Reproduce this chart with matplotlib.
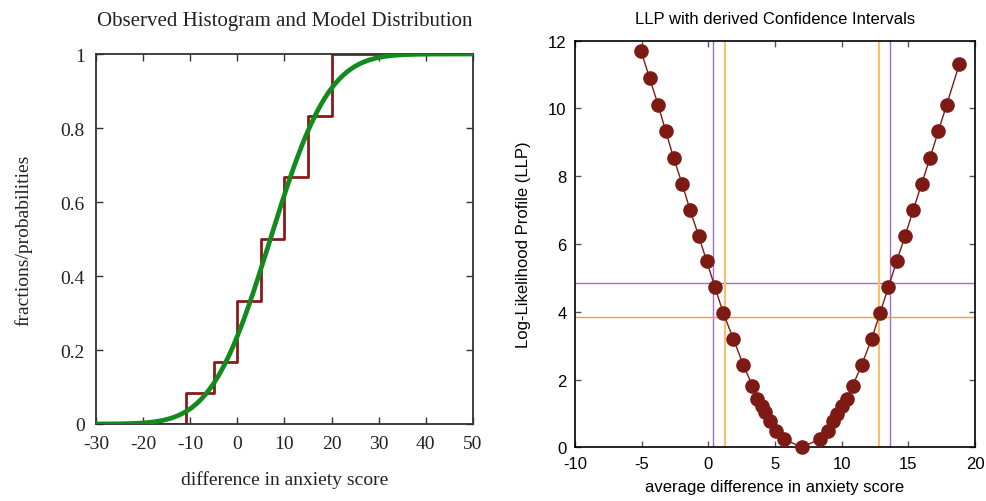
import math
import numpy as np
import matplotlib
matplotlib.use("Agg")
import matplotlib.pyplot as plt

plt.rcParams["axes.unicode_minus"] = False

# left panel: cumulative observed fractions and fitted normal model
step_edges = [-11, -5, 0, 5, 10, 15, 20]
step_fracs = [0.083, 0.167, 0.333, 0.5, 0.667, 0.833, 1.0]
model_mean = 7.0
model_sd = 9.8

# right panel: log-likelihood profile
llp_x = [-5.05, -4.40, -3.77, -3.20, -2.60, -1.97, -1.375, -0.72, -0.12, 0.50,
         1.125, 1.875, 2.625, 3.30, 3.68, 4.00, 4.25, 4.63, 5.08, 5.65, 7.00,
         8.38, 8.95, 9.375, 9.675, 10.00, 10.375, 10.83, 11.50, 12.25, 12.875,
         13.50, 14.125, 14.75, 15.375, 16.00, 16.625, 17.25, 17.875, 18.825]
llp_y = [11.70, 10.89, 10.11, 9.33, 8.54, 7.78, 7.01, 6.23, 5.49, 4.72,
         3.96, 3.20, 2.43, 1.82, 1.42, 1.23, 1.03, 0.785, 0.49, 0.245, 0.0,
         0.245, 0.49, 0.785, 0.98, 1.23, 1.42, 1.82, 2.43, 3.20, 3.96,
         4.72, 5.49, 6.23, 7.01, 7.78, 8.54, 9.33, 10.11, 11.31]
ci95_level, ci95_lo, ci95_hi = 3.84, 1.25, 12.8
ci97_level, ci97_lo, ci97_hi = 4.85, 0.375, 13.65

W, H = 987, 502
fig = plt.figure(figsize=(W / 100, H / 100), dpi=100)

# ---- left
serif = ["Liberation Serif", "DejaVu Serif"]
ax1 = fig.add_axes([96 / W, (H - 425) / H, 377 / W, 370 / H])
sx = [-30] + [e for e in step_edges for _ in (0, 1)] + [50]
sy = [0] + [v for i in range(len(step_fracs))
            for v in ((step_fracs[i - 1] if i else 0), step_fracs[i])] + [1.0]
ax1.plot(sx, sy, color="#8b1a1a", lw=2.0, zorder=2)
xs = np.linspace(-30, 50, 400)
cdf = [0.5 * (1 + math.erf((x - model_mean) / (model_sd * math.sqrt(2)))) for x in xs]
ax1.plot(xs, cdf, color="#118a1e", lw=3.4, zorder=3)
ax1.set_xlim(-30, 50)
ax1.set_ylim(0, 1)
ax1.set_xticks(range(-30, 51, 10))
ax1.set_yticks([0, 0.2, 0.4, 0.6, 0.8, 1])
ax1.set_yticklabels(["0", "0.2", "0.4", "0.6", "0.8", "1"])
ax1.tick_params(direction="in", top=True, right=True, length=5, width=1,
                color="#333333", labelsize=14, pad=8, labelcolor="#222222")
for lab in ax1.get_xticklabels() + ax1.get_yticklabels():
    lab.set_family(serif)
for s in ax1.spines.values():
    s.set_linewidth(1.3)
    s.set_color("#333333")
ax1.set_title("Observed Histogram and Model Distribution", family=serif,
              fontsize=15, pad=21, color="#222222")
ax1.set_xlabel("difference in anxiety score", family=serif, fontsize=14,
               labelpad=13, color="#222222")
ax1.set_ylabel("fractions/probabilities", family=serif, fontsize=14,
               labelpad=20, color="#222222")

# ---- right
sans = ["Liberation Sans", "DejaVu Sans"]
ax2 = fig.add_axes([575 / W, (H - 448.3) / H, 400 / W, 406.6 / H])
ax2.axvline(ci97_lo, color="#9b6fd6", lw=1.0, zorder=1)
ax2.axvline(ci97_hi, color="#9b6fd6", lw=1.0, zorder=1)
ax2.axhline(ci97_level, color="#9b6fd6", lw=1.0, zorder=1)
ax2.axvline(ci95_lo, color="#fbbf66", lw=1.5, zorder=1)
ax2.axvline(ci95_hi, color="#fbbf66", lw=1.5, zorder=1)
ax2.axhline(ci95_level, color="#f5a020", lw=1.0, zorder=1)
ax2.plot(llp_x, llp_y, color="#7e1a14", lw=1.0, marker="o", markersize=9.5,
         markerfacecolor="#7e1a14", markeredgecolor="#7e1a14", zorder=3,
         clip_on=False)
ax2.set_xlim(-10, 20)
ax2.set_ylim(0, 12)
ax2.set_xticks(range(-10, 21, 5))
ax2.set_yticks(range(0, 13, 2))
ax2.tick_params(direction="in", top=True, right=True, length=4, width=1,
                color="#555555", labelsize=12, pad=6)
for lab in ax2.get_xticklabels() + ax2.get_yticklabels():
    lab.set_family(sans)
for s in ax2.spines.values():
    s.set_linewidth(1.2)
    s.set_color("black")
ax2.set_title("LLP with derived Confidence Intervals", family=sans,
              fontsize=12, pad=13)
ax2.set_xlabel("average difference in anxiety score", family=sans,
               fontsize=12, labelpad=6)
ax2.set_ylabel("Log-Likelihood Profile (LLP)", family=sans, fontsize=12,
               labelpad=12)

fig.savefig("out.png", dpi=100)
